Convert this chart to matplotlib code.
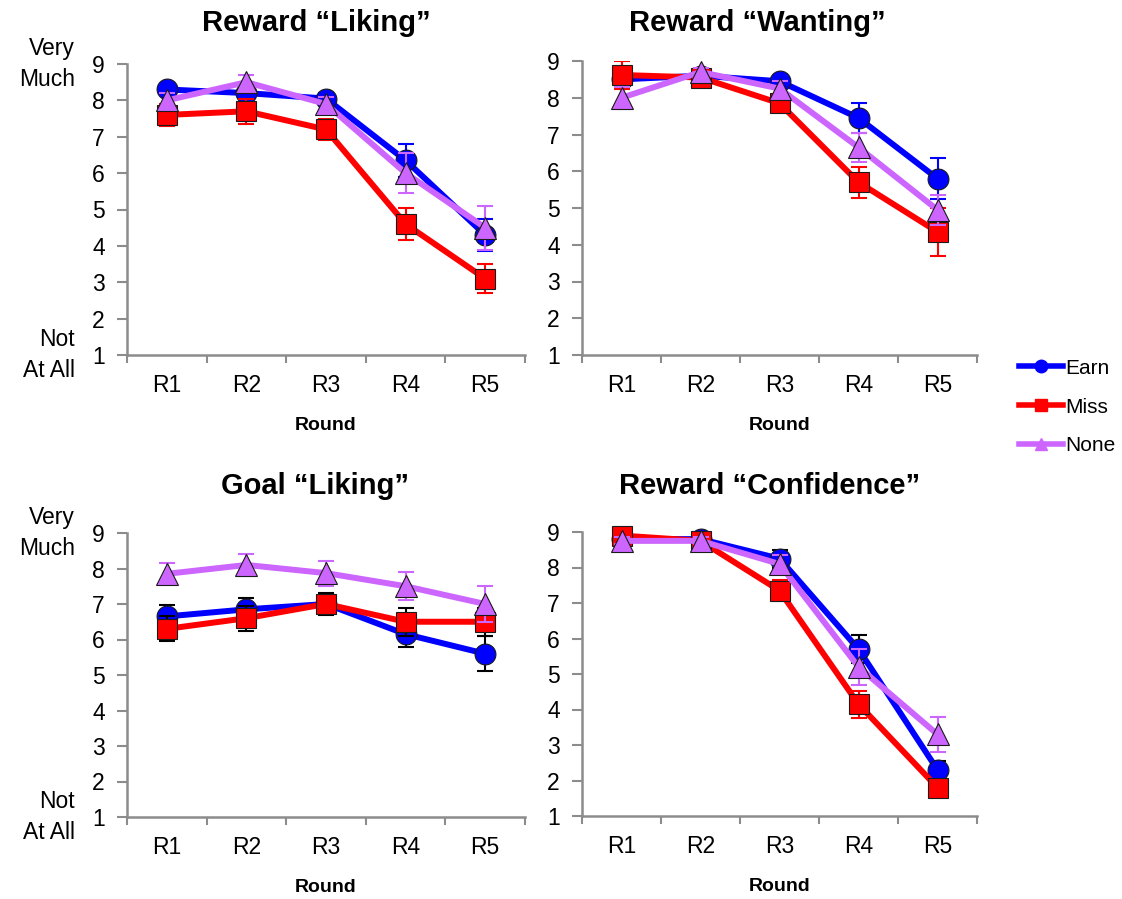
import matplotlib
matplotlib.use('Agg')
import matplotlib.pyplot as plt
from matplotlib.lines import Line2D
import matplotlib.transforms as mtransforms
import numpy as np

plt.rcParams['font.family'] = ['Liberation Sans', 'DejaVu Sans']

# ---------------- data ----------------
rounds = ['R1', 'R2', 'R3', 'R4', 'R5']
conditions = ['Earn', 'Miss', 'None']
titles = ['Reward \u201cLiking\u201d', 'Reward \u201cWanting\u201d',
          'Goal \u201cLiking\u201d', 'Reward \u201cConfidence\u201d']
y_ticks = [1, 2, 3, 4, 5, 6, 7, 8, 9]

reward_liking_earn = [8.30, 8.20, 8.05, 6.35, 4.30]
reward_liking_miss = [7.60, 7.70, 7.20, 4.60, 3.10]
reward_liking_none = [8.00, 8.50, 7.90, 6.00, 4.50]
reward_liking_earn_se = [0.10, 0.10, 0.15, 0.45, 0.45]
reward_liking_miss_se = [0.30, 0.35, 0.30, 0.45, 0.40]
reward_liking_none_se = [0.20, 0.20, 0.20, 0.55, 0.60]

reward_wanting_earn = [8.50, 8.60, 8.45, 7.45, 5.80]
reward_wanting_miss = [8.62, 8.55, 7.85, 5.70, 4.35]
reward_wanting_none = [8.00, 8.70, 8.25, 6.65, 4.95]
reward_wanting_earn_se = [0.10, 0.10, 0.15, 0.40, 0.55]
reward_wanting_miss_se = [0.38, 0.15, 0.20, 0.42, 0.65]
reward_wanting_none_se = [0.30, 0.10, 0.20, 0.40, 0.40]

goal_liking_earn = [6.65, 6.85, 7.00, 6.15, 5.60]
goal_liking_miss = [6.30, 6.60, 7.00, 6.50, 6.50]
goal_liking_none = [7.85, 8.10, 7.87, 7.50, 7.00]
goal_liking_earn_se = [0.33, 0.33, 0.25, 0.35, 0.50]
goal_liking_miss_se = [0.35, 0.35, 0.30, 0.40, 0.40]
goal_liking_none_se = [0.30, 0.30, 0.35, 0.40, 0.50]

reward_confidence_earn = [8.80, 8.80, 8.25, 5.70, 2.30]
reward_confidence_miss = [8.90, 8.75, 7.35, 4.15, 1.80]
reward_confidence_none = [8.75, 8.75, 8.10, 5.20, 3.30]
reward_confidence_earn_se = [0.10, 0.10, 0.25, 0.40, 0.25]
reward_confidence_miss_se = [0.25, 0.10, 0.30, 0.38, 0.20]
reward_confidence_none_se = [0.10, 0.10, 0.25, 0.50, 0.50]

panels = [
    ([reward_liking_earn, reward_liking_miss, reward_liking_none],
     [reward_liking_earn_se, reward_liking_miss_se, reward_liking_none_se]),
    ([reward_wanting_earn, reward_wanting_miss, reward_wanting_none],
     [reward_wanting_earn_se, reward_wanting_miss_se, reward_wanting_none_se]),
    ([goal_liking_earn, goal_liking_miss, goal_liking_none],
     [goal_liking_earn_se, goal_liking_miss_se, goal_liking_none_se]),
    ([reward_confidence_earn, reward_confidence_miss, reward_confidence_none],
     [reward_confidence_earn_se, reward_confidence_miss_se, reward_confidence_none_se]),
]

# ---------------- style ----------------
W, H = 1122, 899
colors = ['#0000FF', '#FF0000', '#CC66FF']
markers = ['o', 's', '^']
msizes = [15, 15, 16]
err_colors = [
    ['#0000FF', '#FF0000', '#CC66FF'],
    ['#0000FF', '#FF0000', '#CC66FF'],
    ['#000000', '#000000', '#CC66FF'],
    ['#000000', '#FF0000', '#CC66FF'],
]
# axes boxes in pixels: left, top, right, bottom
boxes = [(127, 64, 525, 355), (582, 61, 977, 355),
         (127, 533, 525, 817), (582, 532, 977, 816)]
title_pos = [(316, 23), (757, 23), (315, 486), (770, 486)]
axis_gray = '#8C8C8C'

fig = plt.figure(figsize=(W / 100, H / 100), dpi=100)

for i, (series, errs) in enumerate(panels):
    l, t, r, b = boxes[i]
    ax = fig.add_axes([l / W, 1 - b / H, (r - l) / W, (b - t) / H])
    x = np.arange(len(rounds)) + 0.5
    for j in range(3):
        ax.errorbar(x, series[j], yerr=errs[j], fmt='none',
                    ecolor=err_colors[i][j], elinewidth=1.5, capsize=6,
                    capthick=1.5, zorder=2 + j * 2)
        ax.plot(x, series[j], color=colors[j], lw=4.3, marker=markers[j],
                ms=msizes[j], mfc=colors[j], mec='#1a1a1a', mew=0.8,
                zorder=3 + j * 2, clip_on=False)
    ax.set_xlim(0, 5)
    ax.set_ylim(1, 9)
    ax.set_yticks(y_ticks)
    ax.set_xticks(np.arange(0, 6))
    ax.set_xticklabels([])
    ax.set_xticks(x, minor=True)
    ax.set_xticklabels(rounds, minor=True, fontsize=16.5)
    ax.tick_params(axis='x', which='minor', length=0, pad=14)
    ax.tick_params(axis='x', which='major', length=6, width=1.5,
                   color=axis_gray, direction='out')
    ax.tick_params(axis='y', length=7, width=1.5, color=axis_gray,
                   labelsize=16.5, pad=9)
    for s in ['top', 'right']:
        ax.spines[s].set_visible(False)
    for s in ['left', 'bottom']:
        ax.spines[s].set_color(axis_gray)
        ax.spines[s].set_linewidth(1.8)
    ax.set_xlabel('Round', fontsize=14, fontweight='bold', labelpad=14)
    fig.text(title_pos[i][0] / W, 1 - title_pos[i][1] / H, titles[i],
             fontsize=21, fontweight='bold', ha='center', va='center')
    if i in (0, 2):
        tr = mtransforms.blended_transform_factory(fig.transFigure, ax.transData)
        ax.text(75 / W, 9, 'Very\nMuch', transform=tr, ha='right',
                va='center', fontsize=16.5, linespacing=1.4)
        ax.text(75 / W, 1, 'Not\nAt All', transform=tr, ha='right',
                va='center', fontsize=16.5, linespacing=1.4)

handles = [Line2D([0], [0], color=colors[j], lw=4, marker=markers[j],
                  ms=9, mfc=colors[j], mec=colors[j]) for j in range(3)]
fig.legend(handles, conditions, loc='center left',
           bbox_to_anchor=(1009 / W, 1 - 407 / H), frameon=False,
           fontsize=15, handlelength=2.1, handletextpad=0.1,
           labelspacing=0.95, borderpad=0)

fig.savefig('out.png', dpi=100)
